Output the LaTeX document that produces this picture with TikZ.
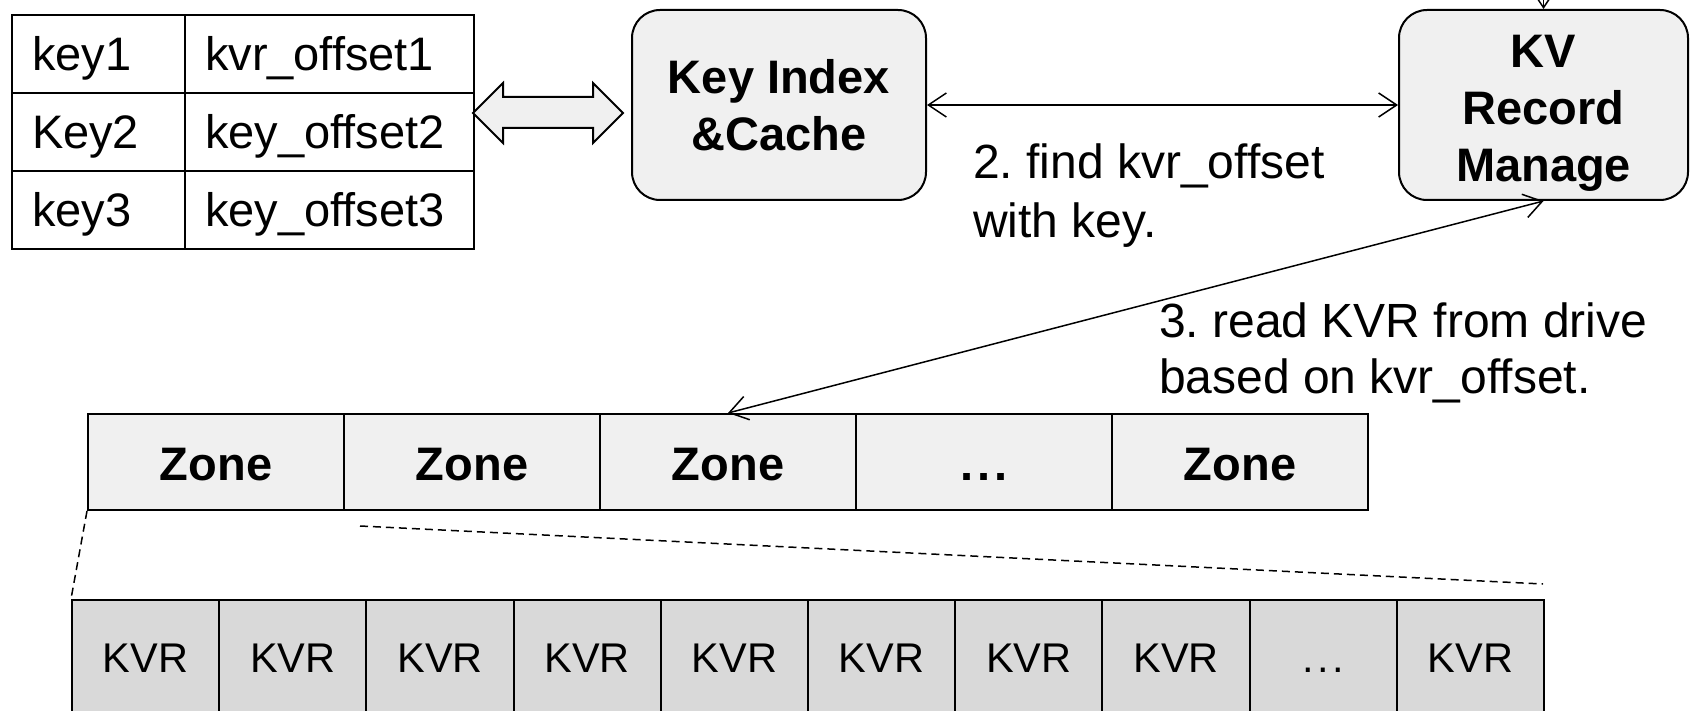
\documentclass[tikz,border=0pt]{standalone}
\usepackage{fontspec}
\setmainfont{Liberation Sans}
\usetikzlibrary{arrows.meta}
\definecolor{boxgray}{HTML}{F0F0F0}
\definecolor{kvrgray}{HTML}{D9D9D9}
\frenchspacing
\newcommand{\dotsx}{.\kern3.5pt.\kern3.5pt.}
\begin{document}
\begin{tikzpicture}[x=1pt,y=-1pt,
  cell/.style={draw, line width=2pt, anchor=north west, minimum height=78pt, inner xsep=20pt, inner ysep=0pt, align=left, text height=41pt, text depth=7pt, font=\fontsize{47}{56}\selectfont},
  cola/.style={cell, text width=133pt},
  colb/.style={cell, text width=249pt},
  box/.style={draw, line width=2pt, fill=boxgray, rounded corners=28pt, align=center, inner sep=0pt, font=\fontsize{47}{57}\selectfont\bfseries},
  zone/.style={draw, line width=2pt, fill=boxgray, minimum width=256pt, minimum height=96pt, inner sep=0pt, text height=36pt, text depth=0pt, font=\fontsize{47}{57}\selectfont\bfseries},
  kvr/.style={draw, line width=2pt, fill=kvrgray, minimum width=147.2pt, minimum height=114pt, inner sep=0pt, text height=31pt, text depth=0pt, font=\fontsize{41.5}{50}\selectfont},
  conn/.style={line width=1.5pt, {Straight Barb[length=18pt,width=24pt,line width=1.5pt]}-{Straight Barb[length=18pt,width=24pt,line width=1.5pt]}},
  oneway/.style={line width=1.5pt, -{Straight Barb[length=18pt,width=24pt,line width=1.5pt]}},
  lbl/.style={anchor=north west, align=left, inner sep=0pt, font=\fontsize{48}{59}\selectfont},
  dashline/.style={line width=1.5pt, dash pattern=on 8pt off 5pt}
]
\useasboundingbox (0,0) rectangle (1690,711);
\clip (0,0) rectangle (1690,711);

% table
\node[cola] (t11) at (11,14) {key1};
\node[colb] (t12) at (184,14) {kvr\_offset1};
\node[cola] (t21) at (11,92) {Key2};
\node[colb] (t22) at (184,92) {key\_offset2};
\node[cola] (t31) at (11,170) {key3};
\node[colb] (t32) at (184,170) {key\_offset3};

% boxes
\node[box, minimum width=294pt, minimum height=190pt] (ki) at (779,105) {Key Index\\\&Cache};
\node[box, minimum width=289pt, minimum height=190pt] (kv) at (1543.5,105) {\rule{0pt}{49pt}KV\\Record\\Manage};

% block double arrow
\draw[line width=2pt, fill=boxgray, line join=miter]
  (473,113) -- (503,83) -- (503,97) -- (593,97) -- (593,83) -- (623,113)
  -- (593,143) -- (593,128) -- (503,128) -- (503,143) -- cycle;

% zones
\foreach \i/\t in {1/Zone,2/Zone,3/Zone,4/\dotsx,5/Zone}{
  \node[zone] (z\i) at ({88+128+256*(\i-1)},462) {\t};
}

% KVRs
\foreach \i/\t in {1/KVR,2/KVR,3/KVR,4/KVR,5/KVR,6/KVR,7/KVR,8/KVR,9/\dotsx,10/KVR}{
  \node[kvr] (k\i) at ({72+73.6+147.2*(\i-1)},657) {\t};
}

% connectors
\coordinate (topin) at (1543.5,0);
\draw[oneway] (topin) -- (kv.north);
\draw[conn] (ki.east) -- (kv.west);
\draw[conn] (kv.south) -- (z3.north);

\coordinate (d1) at (360,526);
\coordinate (d2) at (1543,584);
\draw[dashline] (z1.south west) -- (k1.north west);
\draw[dashline] (d1) -- (d2);

% labels
\node[lbl] (l2) at (973,144) {2. find kvr\_offset\\with key.};
\node[lbl, font=\fontsize{48}{56}\selectfont] (l3) at (1159,303) {3. read KVR from drive\\based on kvr\_offset.};
\end{tikzpicture}
\end{document}
